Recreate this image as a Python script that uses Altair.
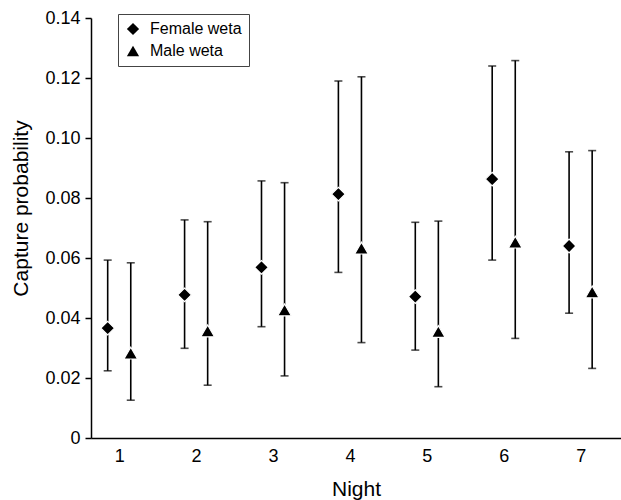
import altair as alt
import pandas as pd

nights = [1, 2, 3, 4, 5, 6, 7]
female_mean = [0.0366, 0.0477, 0.0569, 0.0813, 0.0471, 0.0863, 0.0640]
female_low = [0.0224, 0.0299, 0.0371, 0.0552, 0.0293, 0.0593, 0.0416]
female_high = [0.0593, 0.0727, 0.0857, 0.1190, 0.0719, 0.1240, 0.0954]
male_mean = [0.0283, 0.0357, 0.0427, 0.0633, 0.0355, 0.0653, 0.0487]
male_low = [0.0126, 0.0176, 0.0207, 0.0318, 0.0171, 0.0332, 0.0232]
male_high = [0.0584, 0.0721, 0.0851, 0.1204, 0.0723, 0.1258, 0.0958]
groups = ["Female weta", "Male weta"]
y_ticks = [0, 0.02, 0.04, 0.06, 0.08, 0.10, 0.12, 0.14]

rows = []
for g, m, lo, hi in [(groups[0], female_mean, female_low, female_high),
                     (groups[1], male_mean, male_low, male_high)]:
    for n, a, b, c in zip(nights, m, lo, hi):
        rows.append({"sex": g, "night": n, "mean": a, "low": b, "high": c})
df = pd.DataFrame(rows)

FONT = "Liberation Sans"

base = alt.Chart(df).transform_calculate(
    xpos="datum.night + (datum.sex == 'Female weta' ? -0.15 : 0.15)"
)

x_enc = alt.X(
    "xpos:Q",
    scale=alt.Scale(domain=[0.633, 7.525], nice=False, zero=False),
    axis=alt.Axis(
        values=nights, format="d", ticks=False, grid=False, title="Night",
        labelFontSize=18, titleFontSize=21, titleFontWeight="normal",
        labelPadding=9, titlePadding=13, domainColor="black", domainWidth=1.5,
        labelColor="black", titleColor="black", labelFont=FONT, titleFont=FONT,
    ),
)
y_axis = alt.Axis(
    values=y_ticks, grid=False, title="Capture probability",
    labelExpr="datum.value == 0 ? '0' : format(datum.value, '.2f')",
    tickSize=6, tickColor="black", tickWidth=1.5, labelPadding=5,
    labelFontSize=18, titleFontSize=21, titleFontWeight="normal",
    titlePadding=13, titleY=190, domainColor="black", domainWidth=1.5,
    labelColor="black", titleColor="black", labelFont=FONT, titleFont=FONT,
)
y_scale = alt.Scale(domain=[0, 0.14], nice=False)

rules = base.mark_rule(color="black", strokeWidth=1.6).encode(
    x=x_enc,
    y=alt.Y("low:Q", scale=y_scale, axis=y_axis),
    y2="high:Q",
)
cap_lo = base.mark_tick(orient="horizontal", size=8, thickness=1.6, color="black").encode(
    x="xpos:Q", y=alt.Y("low:Q", scale=y_scale)
)
cap_hi = base.mark_tick(orient="horizontal", size=8, thickness=1.6, color="black").encode(
    x="xpos:Q", y=alt.Y("high:Q", scale=y_scale)
)
points = base.mark_point(filled=True, size=185, stroke="white", strokeWidth=1.2, opacity=1).encode(
    x="xpos:Q",
    y=alt.Y("mean:Q", scale=y_scale),
    shape=alt.Shape(
        "sex:N",
        scale=alt.Scale(domain=groups, range=["diamond", "triangle-up"]),
        legend=alt.Legend(
            title=None, orient="none", legendX=27, legendY=-4,
            strokeColor="#444", fillColor="white", padding=7,
            labelFontSize=16, labelFont=FONT, labelColor="black",
            symbolSize=150, symbolFillColor="black", symbolStrokeColor="black",
            symbolStrokeWidth=0, labelOffset=9, rowPadding=6,
        ),
    ),
    fill=alt.value("black"),
)

chart = alt.layer(rules, cap_lo, cap_hi, points).properties(
    width=530, height=420,
    autosize=alt.AutoSizeParams(type="none"),
    padding={"left": 91, "top": 18, "right": 0, "bottom": 62},
    background="white",
).configure_view(stroke=None)

chart.save("out.html", embed_options={"renderer": "svg", "actions": False})
